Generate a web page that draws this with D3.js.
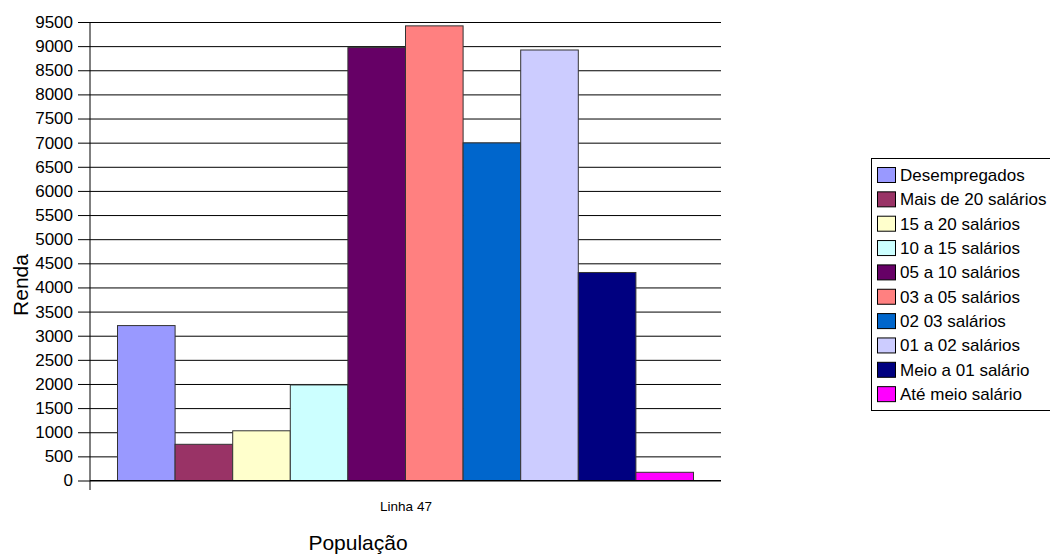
<!DOCTYPE html>
<html><head><meta charset="utf-8">
<script src="https://cdn.jsdelivr.net/npm/d3@7"></script>
<style>
html,body{margin:0;padding:0;background:#fff;}
svg{display:block;font-family:"Liberation Sans",Arial,sans-serif;}
</style></head>
<body>
<svg id="chart" width="1050" height="554"></svg>
<script>
const categories = ["Linha 47"];
const seriesNames = ["Desempregados","Mais de 20 salários","15 a 20 salários","10 a 15 salários","05 a 10 salários","03 a 05 salários","02 03 salários","01 a 02 salários","Meio a 01 salário","Até meio salário"];
const seriesValues = [3210, 750, 1030, 1980, 8970, 9420, 6995, 8920, 4310, 170];
const seriesColors = ["#9999FF","#993366","#FFFFCC","#CCFFFF","#660066","#FF8080","#0066CC","#CCCCFF","#000080","#FF00FF"];
const yTicks = d3.range(0, 9501, 500);

(function () {
const svg = d3.select("#chart");
const pL = 90, pR = 721, pT = 22, pB = 480.5;

const y = d3.scaleLinear().domain([0, 9500]).range([pB, pT]);
const x0 = d3.scaleBand().domain(categories).range([pL, pR]).padding(0);
const x1 = d3.scaleBand().domain(seriesNames).range([27.5, x0.bandwidth() - 27.5]);

// gridlines + left axis
const yAxis = d3.axisLeft(y).tickValues(yTicks).tickFormat(d3.format("d")).tickSize(-(pR - pL)).tickPadding(17).tickSizeOuter(0);
const gy = svg.append("g").attr("transform", `translate(${pL},0)`).call(yAxis);
gy.select(".domain").remove();
gy.selectAll(".tick line").attr("stroke", "#000").attr("x1", -12).attr("x2", pR - pL);
gy.selectAll(".tick text").attr("font-size", 17).attr("fill", "#000").attr("font-family", "Liberation Sans, Arial, sans-serif");

// bars
const g = svg.append("g");
categories.forEach(cat => {
  g.selectAll("rect.bar").data(seriesNames.map((s, i) => ({s, v: seriesValues[i], c: seriesColors[i]})))
    .enter().append("rect")
    .attr("class", "bar")
    .attr("x", d => x0(cat) + x1(d.s))
    .attr("y", d => y(d.v))
    .attr("width", x1.bandwidth())
    .attr("height", d => y(0) - y(d.v))
    .attr("fill", d => d.c)
    .attr("stroke", "#333")
    .attr("stroke-width", 1);
});

// axis lines
svg.append("line").attr("x1", pL).attr("x2", pL).attr("y1", pT).attr("y2", 490).attr("stroke", "#000");
svg.append("line").attr("x1", pL).attr("x2", pR).attr("y1", y(0)).attr("y2", y(0)).attr("stroke", "#000");

// category label
svg.append("text").attr("x", x0(categories[0]) + x0.bandwidth() / 2 + 0.5).attr("y", 511)
  .attr("text-anchor", "middle").attr("font-size", 13.5).attr("fill", "#000").text(categories[0]);

// axis titles
svg.append("text").attr("x", 358).attr("y", 550).attr("text-anchor", "middle").attr("font-size", 21).attr("fill", "#000").text("População");
svg.append("text").attr("transform", "translate(28,285) rotate(-90)").attr("text-anchor", "middle").attr("font-size", 21).attr("fill", "#000").text("Renda");

// legend
const lg = svg.append("g");
lg.append("rect").attr("x", 871.5).attr("y", 158.5).attr("width", 200).attr("height", 252).attr("fill", "#fff").attr("stroke", "#000");
seriesNames.forEach((s, i) => {
  const cy = 175 + i * 24.35;
  lg.append("rect").attr("x", 877.5).attr("y", cy - 7.5).attr("width", 18).attr("height", 15).attr("fill", seriesColors[i]).attr("stroke", "#000");
  lg.append("text").attr("x", 900).attr("y", cy + 6).attr("font-size", 17).attr("fill", "#000").text(s);
});
})();
</script>
</body></html>
